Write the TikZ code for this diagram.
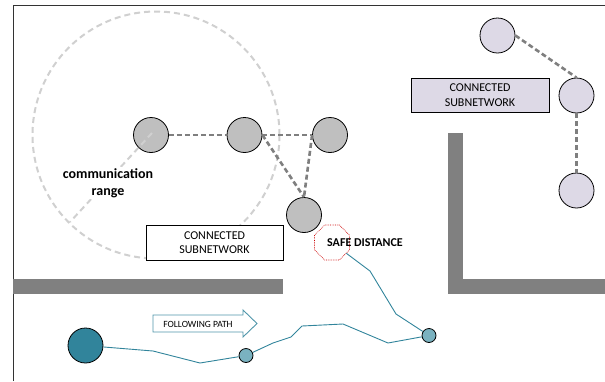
\documentclass[tikz,border=0pt]{standalone}
\usepackage{fontspec}
\setmainfont{Carlito}
\usetikzlibrary{shapes.geometric}
\definecolor{tealdark}{HTML}{31849B}
\definecolor{teallight}{HTML}{7AB2C0}
\definecolor{nodegray}{HTML}{BFBFBF}
\definecolor{lav}{HTML}{DDD9E6}
\definecolor{wallgray}{HTML}{808080}
\definecolor{linkgray}{HTML}{7F7F7F}
\definecolor{rangegray}{HTML}{D0D0D0}
\tikzset{
  robot/.style={circle,draw=black,line width=0.8pt,fill=nodegray,minimum size=35pt,inner sep=0pt},
  lavrobot/.style={robot,fill=lav},
  follower/.style={circle,draw=black,line width=0.8pt,fill=teallight,minimum size=14pt,inner sep=0pt},
  leader/.style={robot,fill=tealdark},
  link/.style={draw=linkgray,line width=2.6pt,dash pattern=on 5pt off 3pt},
  rangeline/.style={draw=rangegray,line width=2pt,dash pattern=on 6pt off 4pt},
  wall/.style={fill=wallgray},
  trail/.style={draw=tealdark,line width=0.9pt},
  subbox/.style={draw=black,line width=0.8pt,align=center,font=\fontsize{12}{14.5}\selectfont,inner sep=0pt},
}
\begin{document}
\begin{tikzpicture}[x=1pt,y=-1pt]
\useasboundingbox (0,0) rectangle (605,381);
% frame
\draw[line width=1pt,black!80] (13,381) -- (13,5) -- (605,5);
% walls
\fill[wall] (13,279) rectangle (283,294);
\fill[wall] (448,133) rectangle (463,294);
\fill[wall] (448,279) rectangle (605,294);
% communication range
\coordinate (rc) at (156,135);
\draw[rangeline] (rc) circle[radius=123.5pt];
% links
\node[robot] (A) at (151,135) {};
\node[robot] (B) at (244.5,135) {};
\node[robot] (C) at (330,135) {};
\node[robot] (D) at (304,215) {};
\draw[link] (A.east) -- (B.west);
\draw[link] (B.east) -- (C.west);
\draw[link] (B.east) -- (D.north);
\draw[link] (C.west) -- (D.north);
\coordinate (re) at (70,222);
\draw[rangeline] (152,133) -- (re);
\node[fill=white,inner sep=1pt,align=center,font=\bfseries\fontsize{14}{17}\selectfont] (crl) at (108,183) {communication\\range};
% lavender subnetwork
\node[lavrobot] (L1) at (497.5,35.5) {};
\node[lavrobot] (L2) at (576.5,95.5) {};
\node[lavrobot] (L3) at (576.5,190.5) {};
\draw[link] (L1.east) -- (L2.north);
\draw[link] (L2.south) -- (L3.north);
\node[subbox,fill=lav,minimum width=138pt,minimum height=34pt] (sb2) at (480,95) {CONNECTED\\SUBNETWORK};
\node[subbox,fill=white,minimum width=137pt,minimum height=35pt] (sb1) at (214.5,242.5) {CONNECTED\\SUBNETWORK};
% safe distance
\node[regular polygon,regular polygon sides=8,draw=red!80!black,densely dotted,line width=0.7pt,minimum size=37.9pt,inner sep=0pt] (safe) at (332,242.5) {};
\node[font=\bfseries\fontsize{12}{14}\selectfont,anchor=west,inner sep=0pt] (safel) at (327,243) {SAFE DISTANCE};
% followers
\node[leader] (F0) at (85.5,345.5) {};
\node[follower] (F1) at (246,355.5) {};
\node[follower] (F2) at (429,335.5) {};
\draw[trail] (F0) -- (153,351) -- (200,363) -- (F1);
\draw[trail] (F1) -- (273,343) -- (291,337) -- (302,326) -- (343,324) -- (388,343) -- (F2);
\draw[trail] (F2) -- (396,314) -- (370,271) -- (safe);
% following path arrow
\draw[draw=tealdark!85,line width=0.9pt,fill=white] (153,315) -- (243,315) -- (243,310) -- (257,323.5) -- (243,337) -- (243,332) -- (153,332) -- cycle;
\node[font=\fontsize{9.5}{11}\selectfont,inner sep=0pt] (fp) at (198,324) {FOLLOWING PATH};
\end{tikzpicture}
\end{document}
